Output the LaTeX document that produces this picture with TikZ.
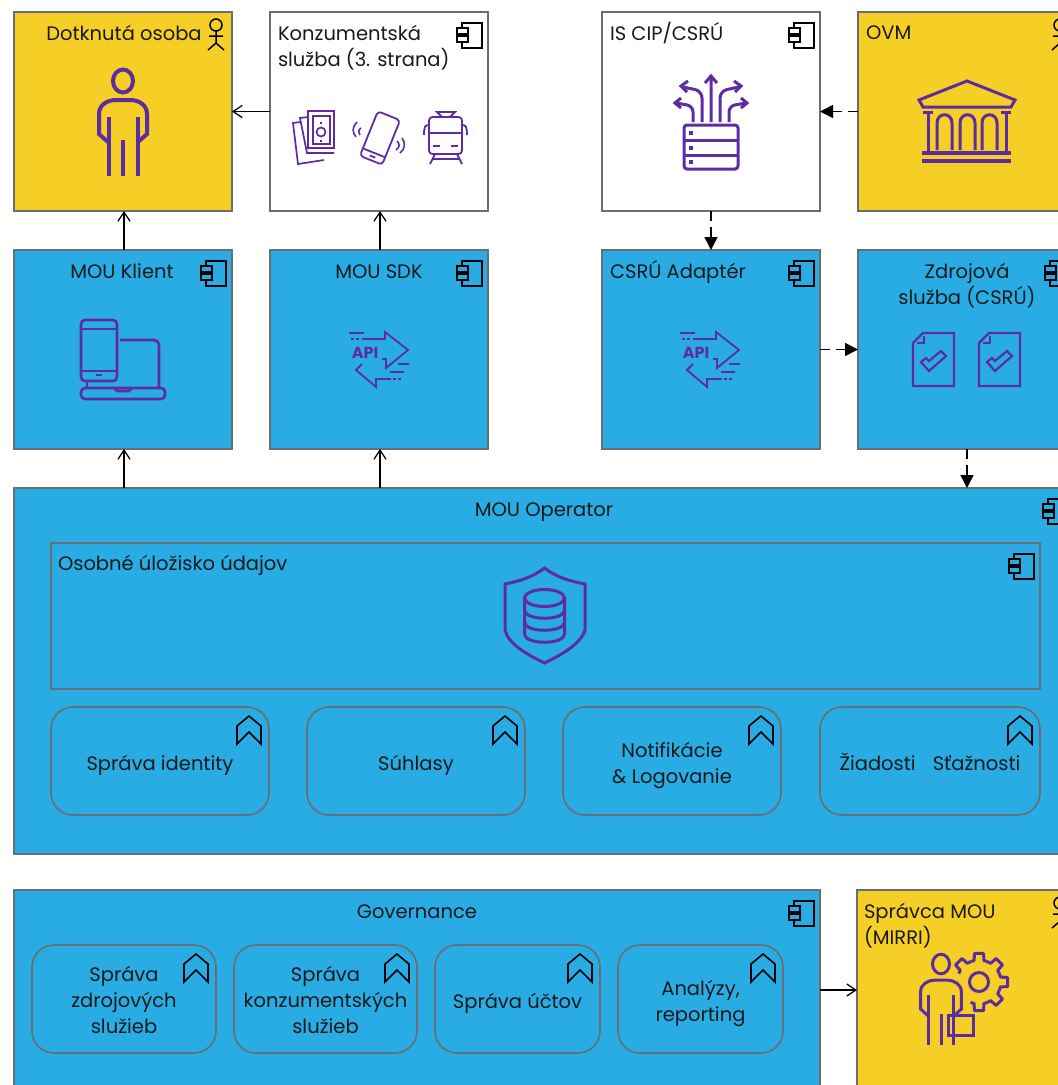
\documentclass[tikz,border=0pt]{standalone}
\usepackage{fontspec}
\setmainfont{Poppins}
\usetikzlibrary{arrows.meta}

\definecolor{boxyellow}{HTML}{F5CE26}
\definecolor{boxblue}{HTML}{29ABE4}
\definecolor{boxedge}{HTML}{6A6E72}
\definecolor{iconpurple}{HTML}{5E2CA2}
\definecolor{inktext}{HTML}{1A1A1A}

\newcommand{\low}[2][4pt]{\raisebox{-#1}[\height][\depth]{#2}}

\tikzset{
    box/.style={draw=boxedge,line width=1.6pt,inner sep=0pt,outer sep=0pt,minimum width=218pt,minimum height=199pt},
    yellowbox/.style={box,fill=boxyellow},
    bluebox/.style={box,fill=boxblue},
    whitebox/.style={box,fill=white},
    pill/.style={draw=boxedge,line width=1.6pt,rounded corners=22pt,inner sep=0pt,outer sep=0pt,minimum height=108pt,align=center,text=inktext,font=\fontsize{19.5}{26}\selectfont},
    title/.style={inner sep=0pt,outer sep=0pt,text=inktext,font=\fontsize{19.5}{26}\selectfont},
    icon/.style={draw=iconpurple,line join=miter},
    glyph/.style={draw=black,line width=1.5pt},
    nudged/.style={transform canvas={xshift=1pt}},
    solidflow/.style={draw=black,line width=1.5pt,-{Straight Barb[length=9pt,width=12pt,line width=1.3pt]}},
    dashflow/.style={draw=black,line width=1.5pt,dash pattern=on 10pt off 6pt,-{Triangle[length=13pt,width=13pt]}},
    compicon/.pic={
        \draw[glyph,line width=1.4pt] (-26,16) -- (-26,11) -- (-6,11) -- (-6,36) -- (-26,36) -- (-26,30);
        \draw[glyph,line width=1.4pt] (-31,16) rectangle (-20,22);
        \draw[glyph,line width=1.4pt] (-31,24) rectangle (-20,30);
    },
    actoricon/.pic={
        \draw[glyph] (-16,13) circle (6);
        \draw[glyph] (-16,19) -- (-16,31) (-23,24) -- (-9,24) (-24,38) -- (-16,31) -- (-8,38);
    },
    chevicon/.pic={
        \draw[glyph,line width=1.6pt] (-32,19) -- (-20,9) -- (-8,19) -- (-8,37) -- (-20,25) -- (-32,37) -- cycle;
    },
    personicon/.pic={
        \draw[icon] (0,0) ellipse [x radius=10,y radius=11.5];
        \draw[icon] (-15,61) -- (-24,53) -- (-24,33) .. controls (-24,24) and (-16,19) .. (-7,19) -- (7,19) .. controls (16,19) and (24,24) .. (24,33) -- (24,53) -- (15,61);
        \draw[icon] (-14.5,36) -- (-14.5,95) (0,59) -- (0,95) (14.5,36) -- (14.5,95);
    },
    apiicon/.pic={
        \draw[icon] (0,0) -- (15,0) (13,6) -- (36,6) -- (36,-1) -- (59,17) -- (37,35) -- (37,26) -- (33,26);
        \draw[icon] (13,31) -- (7,37) -- (27,54) -- (27,46) -- (42,46) (49,31) -- (60,31) (41,39) -- (55,39);
        \draw[icon] (2,6) -- (5,6) (7,6) -- (10,6) (44,46) -- (47,46) (49,46) -- (52,46);
        \node[inner sep=0pt,text=iconpurple,font=\bfseries\fontsize{16}{16}\selectfont] (-word) at (16,20) {API};
    },
    docicon/.pic={
        \draw[icon] (0,10) -- (10,0) -- (41,0) -- (41,53) -- (0,53) -- cycle;
        \draw[icon] (4,10) -- (11,10) -- (11,3);
        \draw[icon] (8,29) -- (13,25) -- (16,28) -- (28,18) -- (33,23) -- (16,38) -- cycle;
    },
}

\begin{document}
\begin{tikzpicture}[x=1pt,y=-1pt]
        \path[use as bounding box,clip] (0,0) rectangle (1058,1085);

        % upper row
        \node[yellowbox] (dotknuta) at (123,111.5) {};
        \node[whitebox] (konzument) at (379,111.5) {};
        \node[whitebox] (iscip) at (711,111.5) {};
        \node[yellowbox] (ovm) at (967,111.5) {};

        % middle row
        \node[bluebox] (klient) at (123,349.5) {};
        \node[bluebox] (sdk) at (379,349.5) {};
        \node[bluebox] (adapter) at (711,349.5) {};
        \node[bluebox] (zdroj) at (967,349.5) {};

        % operator
        \node[bluebox,minimum width=1060pt,minimum height=366pt] (operator) at (544,671) {};
        \node[bluebox,minimum width=989pt,minimum height=146pt] (ulozisko) at (545.5,616) {};
        \node[pill,minimum width=218pt] (identita) at (160,761) {\low{Správa identity}};
        \node[pill,minimum width=218pt] (suhlasy) at (416,761) {\low{Súhlasy}};
        \node[pill,minimum width=218pt] (notifikacie) at (672,761) {\low{Notifikácie}\\\low{\& Logovanie}};
        \node[pill,minimum width=220pt] (ziadosti) at (930,761) {\low[1pt]{Žiadosti\hspace{17pt}Sťažnosti}};

        % governance
        \node[bluebox,minimum width=806pt,minimum height=200pt] (governance) at (417,990) {};
        \node[yellowbox,minimum width=219pt,minimum height=200pt] (spravca) at (966.5,990) {};
        \node[pill,minimum width=184pt] (zdrojove) at (124,999) {\low[1pt]{Správa}\\\low[1pt]{zdrojových}\\\low[1pt]{služieb}};
        \node[pill,minimum width=183pt] (konzumentske) at (325.5,999) {\low[1pt]{Správa}\\\low[1pt]{konzumentských}\\\low[1pt]{služieb}};
        \node[pill,minimum width=165pt] (ucty) at (517.5,999) {\low{Správa účtov}};
        \node[pill,minimum width=165pt] (analyzy) at (700.5,999) {\low{Analýzy,}\\\low{reporting}};

        % titles
        \node[title] (tdotknuta) at (124,33) {Dotknutá osoba};
        \node[title,anchor=north west,align=left] (tkonzument) at (278,25) {Konzumentská\\služba (3. strana)};
        \node[title,anchor=west] (tiscip) at (610,33) {IS CIP/CSRÚ};
        \node[title,anchor=west] (tovm) at (866,33) {OVM};
        \node[title] (tklient) at (122,271) {MOU Klient};
        \node[title] (tsdk) at (379,272) {MOU SDK};
        \node[title,anchor=west] (tadapter) at (610,272) {CSRÚ Adaptér};
        \node[title,anchor=north,align=center] (tzdroj) at (967,263) {Zdrojová\\služba (CSRÚ)};
        \node[title] (toperator) at (544,512) {MOU Operator};
        \node[title,anchor=west] (tulozisko) at (58,565) {Osobné úložisko údajov};
        \node[title] (tgovernance) at (417,912) {Governance};
        \node[title,anchor=north west,align=left] (tspravca) at (864,903) {Správca MOU\\(MIRRI)};

        % connectors
        \draw[solidflow] (konzument) -- (dotknuta);
        \draw[solidflow,nudged] (klient) -- (dotknuta);
        \draw[solidflow,nudged] (sdk) -- (konzument);
        \draw[solidflow,nudged] (operator.north -| klient.south) -- (klient.south);
        \draw[solidflow,nudged] (operator.north -| sdk.south) -- (sdk.south);
        \draw[solidflow] (governance) -- (spravca);
        \draw[dashflow] (ovm) -- (iscip);
        \draw[dashflow] (iscip) -- (adapter);
        \draw[dashflow] (adapter) -- (zdroj);
        \draw[dashflow] (zdroj.south) -- (zdroj.south |- operator.north);

        % notation marks
        \foreach \n in {konzument,iscip,klient,sdk,adapter,zdroj,operator,ulozisko,governance}
            \pic at (\n.north east) {compicon};
        \foreach \n in {dotknuta,ovm,spravca}
            \pic at (\n.north east) {actoricon};
        \foreach \n in {identita,suhlasy,notifikacie,ziadosti,zdrojove,konzumentske,ucty,analyzy}
            \pic at (\n.north east) {chevicon};

        % person
        \pic[line width=4pt] at (123,81) {personicon};

        % banknotes
        \draw[icon,line width=1.7pt] (308,111) rectangle (334,148) (313,116) rectangle (330,144);
        \draw[icon,line width=1.7pt] (321,132) circle (4.5);
        \draw[icon,line width=1.7pt] (321,122) -- (321,124) (321,140) -- (321,142);
        \draw[icon,line width=1.7pt] (308,117) -- (300,118) -- (307,153) -- (334,153);
        \draw[icon,line width=1.7pt] (300,122) -- (293,123) -- (298,164) -- (324,160);

        % phone
        \draw[icon,line width=1.8pt,rounded corners=3.5pt,shift={(380,138)},rotate=-22] (-12,-24) rectangle (12,24);
        \draw[icon,line width=1.8pt,shift={(380,138)},rotate=-22] (-12,16) -- (12,16) (-3,20) -- (3,20);
        \draw[icon,line width=1.6pt] (357,122) .. controls (352,127) and (352,132) .. (356,137) (361,128) .. controls (358,130) and (358,133) .. (360,135);
        \draw[icon,line width=1.6pt] (402,138) .. controls (406,143) and (405,149) .. (400,153) (397,141) .. controls (400,144) and (400,147) .. (396,150);

        % tram
        \draw[icon,line width=1.8pt,rounded corners=3.5pt] (429,117) rectangle (462,154);
        \draw[icon,line width=1.8pt] (429,133) -- (462,133) (433,146) -- (440,146) (451,146) -- (458,146);
        \draw[icon,line width=1.8pt] (442,117) -- (437,112) -- (455,112) -- (450,117);
        \draw[icon,line width=1.8pt] (429,125) .. controls (425,125) and (424,127) .. (424,135);
        \draw[icon,line width=1.8pt] (462,125) .. controls (466,125) and (467,127) .. (467,135);
        \draw[icon,line width=1.8pt] (435,154) -- (430,164) (457,154) -- (462,164) (433,159) -- (459,159);

        % server with arrows
        \draw[icon,line width=3pt,rounded corners=3pt] (684,125) rectangle (738,169);
        \draw[icon,line width=3pt] (684,140) -- (738,140) (684,155) -- (738,155);
        \foreach \y in {133,148,162}
            \fill[iconpurple] (688.5,\y-2) rectangle (692.5,\y+2);
        \draw[icon,line width=3pt] (711,122) -- (711,76) (705,83) -- (711,76) -- (717,83);
        \draw[icon,line width=3pt,rounded corners=7pt] (702,122) -- (702,91) -- (683,87);
        \draw[icon,line width=3pt,rounded corners=7pt] (720,122) -- (720,91) -- (739,87);
        \draw[icon,line width=3pt,rounded corners=6pt] (693,122) -- (693,106) -- (676,103);
        \draw[icon,line width=3pt,rounded corners=6pt] (729,122) -- (729,106) -- (746,103);
        \draw[icon,line width=3pt] (688,81) -- (681,86) -- (687,92) (734,81) -- (741,86) -- (735,92);
        \draw[icon,line width=3pt] (681,98) -- (675,103) -- (681,108) (741,98) -- (747,103) -- (741,108);

        % bank
        \draw[icon,line width=3pt] (967,81) -- (919,100) -- (923,107) -- (1011,107) -- (1015,100) -- cycle;
        \draw[icon,line width=3pt] (923,112) -- (933,112) (1001,112) -- (1011,112);
        \draw[icon,line width=3pt] (928,112) -- (928,152) (1006,112) -- (1006,152);
        \foreach \x in {937,960,982}
            \draw[icon,line width=3pt] (\x,150) -- (\x,123) .. controls (\x,112) and (\x+15,112) .. (\x+15,123) -- (\x+15,150);
        \draw[icon,line width=3.5pt] (922,153) -- (1011,153) (922,161) -- (1011,161);

        % phone and laptop
        \draw[icon,line width=2.6pt,rounded corners=4pt] (81,320) rectangle (117,381);
        \draw[icon,line width=2.6pt] (81,329) -- (117,329) (81,371) -- (117,371) (96,375) -- (102,375);
        \draw[icon,line width=2.6pt,rounded corners=5pt] (120,340) -- (159,340) -- (159,389);
        \draw[icon,line width=2.6pt] (87,381) -- (87,388);
        \draw[icon,line width=2.6pt,rounded corners=4pt] (81,388) -- (165,388) -- (165,399) -- (81,399) -- cycle;
        \draw[icon,line width=2.6pt] (114,388) -- (117,391) -- (129,391) -- (132,388);

        % api arrows
        \pic[line width=1.8pt] at (349,333) {apiicon};
        \pic[line width=1.8pt] at (680,333) {apiicon};

        % documents
        \pic[line width=2.2pt] at (913,333) {docicon};
        \pic[line width=2.2pt] at (979,333) {docicon};

        % shield with database
        \draw[icon,line width=3pt] (544.5,568) .. controls (533,577) and (520,581) .. (505,584) -- (505,630) .. controls (508,644) and (528,655) .. (544.5,663) .. controls (561,655) and (581,644) .. (585,630) -- (585,584) .. controls (569,581) and (556,577) .. (544.5,568) -- cycle;
        \draw[icon,line width=3pt] (544.5,598) ellipse [x radius=20,y radius=8.5];
        \draw[icon,line width=3pt] (524.5,598) -- (524.5,634) .. controls (524.5,645) and (564.5,645) .. (564.5,634) -- (564.5,598);
        \draw[icon,line width=3pt] (524.5,610) .. controls (524.5,621) and (564.5,621) .. (564.5,610);
        \draw[icon,line width=3pt] (524.5,622) .. controls (524.5,633) and (564.5,633) .. (564.5,622);

        % administrator with gear
        \pic[line width=3pt,scale=.85] at (941,964) {personicon};
        \draw[icon,line width=3pt] (948,1015) rectangle (973,1035);
        \draw[icon,line width=3pt] (979,982) circle (9.5);
        \foreach \a in {225,270,315,360,405,450}
            \draw[icon,line width=3pt,shift={(979,982)},line join=round] (\a-22.5:22) -- (\a-13:22) -- (\a-9:29) -- (\a+9:29) -- (\a+13:22) -- (\a+22.5:22);
    \end{tikzpicture}
\end{document}
